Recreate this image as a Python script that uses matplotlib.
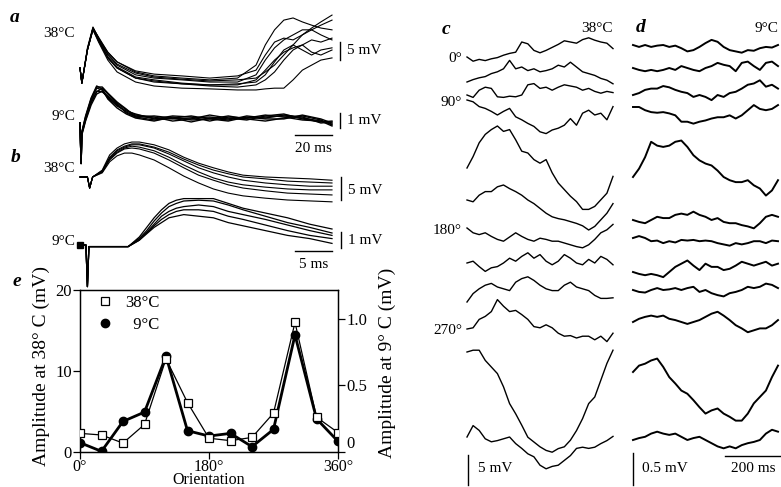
import numpy as np
import matplotlib
matplotlib.use("Agg")
from matplotlib import pyplot as plt
from matplotlib.lines import Line2D

plt.rcParams['font.family'] = ['Liberation Serif', 'DejaVu Serif']
plt.rcParams['font.size'] = 11

W, H = 781, 487

# ---------------- data ----------------
# panel e : orientation tuning
orientation = [0, 30, 60, 90, 120, 150, 180, 210, 240, 270, 300, 330, 360]
amp_38 = [2.3, 2.1, 1.1, 3.4, 11.5, 6.1, 1.7, 1.4, 1.8, 4.8, 16.0, 4.3, 2.4]        # mV, left axis
amp_9 = [0.07, 0.005, 0.23, 0.30, 0.72, 0.16, 0.12, 0.14, 0.04, 0.17, 0.88, 0.25, 0.08]  # mV, right axis

# panel a : responses to repeated stimuli (mV vs ms)
a_t38 = [0, 1, 4, 7, 10, 15, 20, 30, 40, 55, 70, 85, 95, 100, 105, 110, 115, 120, 125, 130, 136]
a_38 = [
    [0, -4.2, 5.0, 10.6, 7.2, 2.2, -1.1, -3.9, -5.0, -5.6, -5.8, -6.1, -6.1, -5.8, -5.6, -5.6, -3.3, -0.6, 0.8, 2.2, 2.8],
    [0, -4.2, 5.0, 11.1, 7.8, 2.8, 0, -2.8, -3.9, -4.4, -4.7, -4.7, -3.3, -0.6, 2.2, 4.4, 5.6, 6.4, 7.8, 7.2, 8.3],
    [0, -4.2, 5.6, 11.4, 8.3, 3.6, 0.8, -1.9, -2.8, -3.3, -3.9, -3.9, -1.9, 2.2, 5.6, 7.8, 9.2, 10.6, 10.6, 11.9, 13.3],
    [0, -4.2, 5.0, 11.1, 8.3, 4.4, 1.7, -1.1, -2.2, -2.8, -3.3, -2.8, 0.8, 6.4, 10.6, 13.3, 13.9, 12.8, 11.9, 11.1, 10.6],
    [0, -4.2, 5.0, 10.8, 7.8, 3.1, 0.3, -2.5, -3.3, -4.2, -4.7, -4.4, -3.9, -1.9, 1.7, 5.0, 6.4, 5.0, 3.6, 5.0, 5.6],
    [0, -4.2, 5.3, 11.1, 8.3, 3.9, 1.1, -1.4, -2.5, -3.1, -3.6, -3.3, -2.8, -1.1, 0.8, 3.6, 6.4, 9.2, 11.1, 12.8, 14.7],
    [0, -4.2, 5.0, 10.6, 7.5, 2.8, 0, -2.8, -3.6, -4.4, -5.0, -5.3, -4.7, -3.3, -1.1, 2.2, 5.0, 6.4, 4.4, 3.6, 5.0],
    [0, -4.2, 5.0, 11.1, 8.6, 4.4, 1.7, -0.8, -1.7, -2.2, -2.8, -2.2, -0.6, 3.6, 7.2, 8.3, 7.8, 9.2, 10.6, 9.2, 7.8],
]
a_t9 = [0, 0.6, 1, 3, 6, 9, 12, 15, 20, 25, 30, 40, 50, 60, 70, 80, 90, 100, 110, 120, 130, 136]
a_9 = [
    [0, -2.7, -0.67, 0.33, 1.53, 2.33, 2.2, 1.73, 1.2, 0.73, 0.47, 0.33, 0.27, 0.33, 0.4, 0.27, 0.33, 0.4, 0.47, 0.33, 0.13, -0.07],
    [0, -2.7, -0.73, 0.2, 1.33, 2.07, 2.33, 1.93, 1.33, 0.87, 0.53, 0.4, 0.13, 0.27, 0.53, 0.33, 0.2, 0.47, 0.6, 0.27, 0.07, 0.13],
    [0, -2.7, -0.6, 0.47, 1.67, 2.47, 2.27, 1.6, 1.0, 0.6, 0.33, 0.13, 0.4, 0.2, 0.27, 0.47, 0.27, 0.13, 0.33, 0.47, 0.2, -0.13],
    [0, -2.7, -0.67, 0.27, 1.4, 2.13, 2.07, 1.8, 1.27, 0.67, 0.4, 0.47, 0.33, 0.07, 0.33, 0.2, 0.47, 0.33, 0.53, 0.4, 0, 0.07],
    [0, -2.7, -0.8, 0.13, 1.2, 1.93, 2.13, 1.67, 1.13, 0.8, 0.6, 0.27, 0.47, 0.4, 0.13, 0.4, 0.33, 0.53, 0.4, 0.2, 0.13, -0.2],
    [0, -2.7, -0.6, 0.4, 1.6, 2.4, 2.4, 2.0, 1.4, 0.93, 0.4, 0.2, 0.33, 0.47, 0.27, 0.13, 0.4, 0.27, 0.27, 0.53, 0.27, 0],
]

# panel b : same cell, expanded time base
b_t38 = [0, 1.0, 1.3, 1.7, 3, 4, 5, 6, 7, 8, 10, 12, 14, 16, 18, 20, 22, 25, 28, 31, 34]
b_38 = [
    [0, 0, -2.4, 0, 1.5, 4.8, 6.3, 7.2, 7.6, 7.6, 7.0, 5.9, 4.3, 3.0, 2.0, 1.1, 0.4, 0, -0.2, -0.4, -0.7],
    [0, 0, -2.4, 0, 1.3, 4.3, 5.9, 6.7, 7.2, 7.2, 6.5, 5.4, 3.9, 2.6, 1.5, 0.7, 0, -0.4, -0.9, -1.1, -1.3],
    [0, 0, -2.4, 0, 1.3, 4.1, 5.7, 6.5, 7.0, 7.0, 6.3, 5.0, 3.5, 2.0, 0.9, 0, -0.7, -1.3, -1.7, -2.0, -2.0],
    [0, 0, -2.4, 0, 1.1, 3.9, 5.4, 6.3, 6.7, 6.5, 5.7, 4.3, 2.6, 1.1, -0.2, -1.1, -1.7, -2.2, -2.6, -2.8, -2.8],
    [0, 0, -2.4, 0, 1.1, 3.7, 5.2, 6.1, 6.3, 6.1, 5.2, 3.7, 2.0, 0.4, -0.7, -1.7, -2.4, -3.0, -3.5, -3.7, -3.9],
    [0, 0, -2.4, 0, 0.9, 3.3, 4.6, 5.2, 5.2, 4.8, 3.7, 2.0, 0.2, -1.3, -2.6, -3.5, -4.1, -4.6, -5.0, -5.2, -5.4],
]
b_t9 = [0, 0.8, 1.0, 1.2, 3, 5, 6.5, 8, 9, 10, 11, 12, 13, 14, 16, 18, 20, 22, 25, 28, 31, 34]
b_9 = [
    [0, 0, -2.6, -0.1, -0.1, -0.1, -0.1, 0.5, 1.1, 1.7, 2.2, 2.6, 2.8, 2.9, 2.9, 2.9, 2.6, 2.3, 2.0, 1.7, 1.3, 1.0],
    [0, 0, -2.6, -0.1, -0.1, -0.1, -0.1, 0.4, 0.9, 1.5, 2.0, 2.4, 2.6, 2.75, 2.8, 2.75, 2.5, 2.2, 1.8, 1.4, 1.1, 0.75],
    [0, 0, -2.6, -0.1, -0.1, -0.1, -0.1, 0.4, 0.8, 1.3, 1.8, 2.1, 2.3, 2.4, 2.5, 2.4, 2.1, 1.9, 1.6, 1.25, 0.9, 0.6],
    [0, 0, -2.6, -0.1, -0.1, -0.1, -0.1, 0.3, 0.75, 1.2, 1.6, 1.9, 2.1, 2.2, 2.2, 2.1, 1.8, 1.6, 1.25, 0.9, 0.6, 0.4],
    [0, 0, -2.6, -0.1, -0.1, -0.1, -0.1, 0.3, 0.7, 1.1, 1.4, 1.7, 1.8, 1.9, 1.8, 1.7, 1.4, 1.2, 0.9, 0.6, 0.4, 0.1],
]

# panels c, d : one trace per orientation (0..330 deg, 30 deg steps), 25 samples over ~520 ms
cd_t = np.linspace(0, 520, 25)
c_38 = [
    [0, -0.7, -0.4, -0.6, -0.3, -0.1, 0.3, 0.6, 0.8, 2.5, 2.2, 1.1, 0.7, 1.1, 1.6, 2.1, 2.7, 2.5, 2.3, 2.9, 3.2, 2.8, 2.5, 2.3, 1.4],
    [0, 0.4, 0.7, 0.9, 1.4, 1.7, 2.2, 3.6, 2.2, 2.5, 1.9, 2.2, 1.7, 1.9, 2.2, 2.8, 2.5, 3.3, 2.5, 1.7, 1.4, 1.1, 0.6, 0.3, -0.3],
    [0, -0.4, 0.8, 1.3, 1.1, -0.3, -0.4, -0.2, -0.3, 0, 1.7, 1.9, 1.1, 1.3, 0.8, 1.3, 1.7, 1.5, 1.3, 0.8, 1.1, 0.6, 0.3, 0.6, 0.4],
    [0, -0.3, -1.1, -1.4, -1.9, -2.5, -1.9, -1.4, -2.8, -3.3, -3.9, -4.4, -5.3, -5.6, -5.0, -4.7, -4.2, -3.1, -4.2, -2.2, -1.7, -2.5, -2.2, -3.3, -1.1],
    [0, 1.9, 4.2, 5.6, 6.4, 7.0, 6.1, 6.4, 4.7, 2.8, 2.5, 1.4, 0.8, 1.4, -0.8, -2.5, -3.6, -4.7, -5.6, -6.9, -6.9, -6.4, -5.3, -4.2, -1.4],
    [0, -0.3, 0.8, 1.4, 1.4, 2.2, 2.5, 1.9, 1.4, 0.8, 0, -0.6, -1.4, -2.2, -2.8, -3.1, -3.3, -3.6, -3.9, -4.3, -5.0, -4.4, -3.3, -2.2, -0.6],
    [0, -0.8, -1.1, -0.8, -1.4, -1.9, -2.2, -1.5, -0.8, -1.4, -1.9, -2.2, -1.7, -1.9, -2.2, -2.2, -2.5, -2.8, -3.1, -3.3, -2.8, -1.9, -0.8, -0.3, 0.6],
    [0, 0.3, -0.6, -1.4, -0.8, -0.6, 0, 0.8, 0.3, 1.1, 1.7, 0.8, 1.4, 0.3, -0.3, 0.3, 1.4, 0.8, 0, -0.3, 0.6, 0, 1.1, 0.6, -0.3],
    [0, 1.4, 2.2, 2.8, 3.1, 2.5, 2.2, 1.9, 3.3, 3.9, 4.2, 3.6, 2.8, 2.2, 1.9, 1.9, 2.8, 3.3, 2.5, 2.2, 1.9, 1.1, 0.6, 0.6, 0.7],
    [0, 0.2, 1.6, 2.1, 2.9, 4.9, 3.8, 2.9, 3.1, 2.4, 1.6, 0.4, 0.2, 0.7, 0.2, -0.7, -1.2, -1.1, -1.5, -1.2, -1.2, -1.8, -1.2, -2.1, -0.7],
    [0, 0.3, 0.3, -1.4, -2.5, -3.6, -5.8, -8.6, -10.3, -12.2, -14.2, -15.0, -15.8, -16.4, -16.7, -16.1, -15.8, -14.7, -13.1, -11.1, -8.6, -7.5, -4.7, -1.9, 0.3],
    [0, 1.9, 1.1, -0.3, -0.8, -0.6, -0.3, 0, -1.1, -1.9, -2.8, -3.3, -4.7, -5.3, -4.9, -4.7, -3.9, -3.1, -1.9, -1.7, -1.9, -1.7, -1.1, -0.6, 0.1],
]
d_9 = [
    [0, -0.03, 0, -0.03, -0.01, 0, -0.03, -0.01, -0.05, -0.10, -0.08, -0.03, 0.03, 0.08, 0.05, -0.03, -0.08, -0.10, -0.12, -0.08, -0.09, -0.05, -0.03, -0.04, 0],
    [0, -0.03, -0.05, -0.03, -0.05, -0.03, 0, -0.03, 0.03, 0, -0.03, -0.05, 0, 0.03, 0.08, 0.05, 0.03, -0.05, 0.08, 0.10, 0.03, -0.03, 0.08, 0.10, 0.03],
    [0, 0.03, 0.08, 0.10, 0.10, 0.14, 0.12, 0.08, 0.05, 0.03, -0.03, 0, -0.03, -0.08, 0, -0.03, 0.03, 0.05, 0.10, 0.16, 0.18, 0.23, 0.13, 0.16, 0.10],
    [0, 0, -0.05, -0.08, -0.09, -0.08, -0.10, -0.13, -0.23, -0.23, -0.26, -0.23, -0.21, -0.18, -0.16, -0.16, -0.13, -0.18, -0.13, -0.05, 0.03, -0.03, -0.05, -0.03, 0.03],
    [0, 0.13, 0.31, 0.55, 0.49, 0.47, 0.49, 0.55, 0.57, 0.47, 0.34, 0.26, 0.21, 0.18, 0.10, 0, -0.05, -0.08, -0.08, -0.05, -0.13, -0.18, -0.29, -0.21, -0.05],
    [0, -0.03, -0.05, 0, 0.05, 0.03, 0.03, 0.08, 0.10, 0.08, 0.13, 0.08, 0.05, 0, 0.03, -0.03, -0.05, -0.05, -0.08, -0.10, -0.13, -0.05, 0.05, 0.08, 0.05],
    [0, 0.03, 0, -0.05, -0.04, -0.08, -0.05, -0.07, -0.03, -0.04, -0.03, -0.05, -0.04, -0.05, -0.08, -0.10, -0.12, -0.08, -0.10, -0.08, -0.05, -0.05, -0.08, -0.04, -0.05],
    [0, -0.03, -0.05, -0.03, -0.05, -0.08, 0, 0.08, 0.13, 0.18, 0.10, 0.03, 0.13, 0.08, 0.08, 0.03, 0.05, 0.10, 0.16, 0.13, 0.10, 0.13, 0.16, 0.10, 0.13],
    [0, -0.03, -0.04, 0, 0.03, 0, 0.01, 0.03, 0, 0.03, 0.05, -0.03, 0, -0.05, -0.08, -0.10, -0.05, -0.03, 0, 0.05, 0.03, 0.05, 0.10, 0.08, 0.03],
    [0, 0.05, 0.08, 0.10, 0.08, 0.10, 0.05, 0.03, 0, -0.03, 0, 0.03, 0.08, 0.13, 0.16, 0.10, 0.03, -0.05, -0.10, -0.16, -0.13, -0.10, -0.10, -0.05, 0.03],
    [0, 0.10, 0.13, 0.18, 0.21, 0.08, -0.08, -0.18, -0.29, -0.34, -0.44, -0.55, -0.65, -0.60, -0.57, -0.65, -0.70, -0.76, -0.76, -0.65, -0.49, -0.39, -0.29, -0.08, 0.10],
    [0, 0.03, 0.05, 0.10, 0.13, 0.10, 0.08, 0.10, 0.05, 0, 0.03, 0.05, 0, -0.05, -0.10, -0.13, -0.10, -0.13, -0.08, -0.05, -0.03, 0, 0.10, 0.16, 0.13],
]

# vertical placement of the stacked traces (pixel rows of each trace start)
c_rows = [57, 82, 95, 100, 168, 200, 228, 263, 302, 329, 352, 437]
d_rows = [45, 68, 95, 107, 177, 220, 238, 272, 290, 322, 372, 440]


# ---------------- layout helpers ----------------
def px_rect(x0, y0, x1, y1):
    return [x0 / W, 1 - y1 / H, (x1 - x0) / W, (y1 - y0) / H]


def trace_axes(x0, x1, y0, y1, tmax, base_px, ppu):
    ax = fig.add_axes(px_rect(x0, y0, x1, y1))
    ax.set_xlim(0, tmax)
    ax.set_ylim((base_px - y1) / ppu, (base_px - y0) / ppu)
    ax.axis('off')
    ax.patch.set_alpha(0)
    return ax


def px_line(xs, ys, lw=1.0):
    fig.add_artist(Line2D([x / W for x in xs], [1 - y / H for y in ys], color='black', lw=lw))


def px_text(x, y, s, **kw):
    fig.text(x / W, 1 - y / H, s, **kw)


fig = plt.figure(figsize=(W / 100, H / 100), dpi=100)

# ---------------- panel a ----------------
ax = trace_axes(80, 332, 0, 100, 136, 68, 3.6)
for tr in a_38:
    ax.plot(a_t38, tr, color='black', lw=0.8, clip_on=False)
ax = trace_axes(80, 332, 90, 145, 136, 123, 15)
for tr in a_9:
    ax.plot(a_t9, tr, color='black', lw=1.0, clip_on=False)

px_text(15, 17, 'a', fontsize=14, fontweight='bold', style='italic', ha='center', va='center')
px_text(75, 33, '38°C', ha='right', va='center')
px_text(75, 117, '9°C', ha='right', va='center')
px_line([340, 340], [42, 60])
px_text(347, 51, '5 mV', ha='left', va='center')
px_line([340, 340], [113, 128])
px_text(347, 120, '1 mV', ha='left', va='center')
px_line([295, 332], [135, 135])
px_text(313, 148, '20 ms', ha='center', va='center')

# ---------------- panel b ----------------
ax = trace_axes(80, 332, 130, 215, 34, 177, 4.6)
for tr in b_38:
    ax.plot(b_t38, tr, color='black', lw=0.8, clip_on=False)
ax = trace_axes(80, 332, 190, 290, 34, 245, 16)
for tr in b_9:
    ax.plot(b_t9, tr, color='black', lw=0.9, clip_on=False)
ax.plot(b_t9[:1], b_9[0][:1], 's', color='black', ms=4, clip_on=False)

px_text(16, 157, 'b', fontsize=14, fontweight='bold', style='italic', ha='center', va='center')
px_text(75, 169, '38°C', ha='right', va='center')
px_text(75, 242, '9°C', ha='right', va='center')
px_line([341, 341], [177, 200])
px_text(348, 190, '5 mV', ha='left', va='center')
px_line([341, 341], [232, 248])
px_text(348, 240, '1 mV', ha='left', va='center')
px_line([295, 332], [251, 251])
px_text(314, 264, '5 ms', ha='center', va='center')

# ---------------- panel c ----------------
ax = trace_axes(467, 613, 0, 487, 520, 0, 6)
for tr, row in zip(c_38, c_rows):
    ax.plot(cd_t, np.array(tr) - row / 6, color='black', lw=1.0, clip_on=False)
px_text(446, 30, 'c', fontsize=14, fontweight='bold', style='italic', ha='center', va='center')
px_text(613, 29, '38°C', ha='right', va='center')
for lab, i in zip(['0°', '90°', '180°', '270°'], [0, 3, 6, 9]):
    px_text(462, c_rows[i] + 2, lab, ha='right', va='center')
px_line([468, 468], [455, 485])
px_text(478, 469, '5 mV', ha='left', va='center')

# ---------------- panel d ----------------
ax = trace_axes(633, 778, 0, 487, 520, 0, 64)
for tr, row in zip(d_9, d_rows):
    ax.plot(cd_t, np.array(tr) - row / 64, color='black', lw=1.4, clip_on=False)
px_text(641, 28, 'd', fontsize=14, fontweight='bold', style='italic', ha='center', va='center')
px_text(778, 28, '9°C', ha='right', va='center')
px_line([633, 633], [453, 485])
px_text(642, 468, '0.5 mV', ha='left', va='center')
px_line([725, 781], [456, 456])
px_text(753, 469, '200 ms', ha='center', va='center')

# ---------------- panel e ----------------
ax = fig.add_axes(px_rect(80, 290, 338, 452))
ax2 = ax.twinx()
ax.plot(orientation, amp_38, color='black', lw=0.9, marker='s', ms=6,
        mfc='white', mec='black', mew=0.9, label='38°C', zorder=3)
ax2.plot(orientation, amp_9, color='black', lw=2.0, marker='o', ms=6,
         mfc='black', mec='black', label='  9°C')
ax.set_zorder(ax2.get_zorder() + 1)
ax.patch.set_visible(False)
ax.set_xlim(0, 360)
ax.set_ylim(0, 20)
ax2.set_ylim(0, 20 * 0.0609)
ax.set_xticks([0, 180, 360], ['0°', '180°', '360°'])
ax.set_yticks([0, 10, 20])
ax2.set_yticks([0, 0.5, 1.0], ['0', '0.5', '1.0'])
for a_ in (ax, ax2):
    a_.tick_params(direction='out', length=5, width=0.9, labelsize=12, pad=1)
    for sp in a_.spines.values():
        sp.set_linewidth(0.9)
ax.tick_params(axis='x', pad=0, labelsize=11.5)
ax2.get_yticklabels()[0].set_verticalalignment('bottom')
ax.set_xlabel('Orientation', fontsize=11.5, va='center')
ax.xaxis.set_label_coords(0.5, -(480 - 452) / 162)
ax.set_ylabel('Amplitude at 38° C (mV)', fontsize=14, va='center', rotation_mode='default')
ax.yaxis.set_label_coords(-0.151, 0.53)
ax2.set_ylabel('Amplitude at 9° C (mV)', fontsize=14, rotation=90, va='center', rotation_mode='default')
ax2.yaxis.set_label_coords(1.19, 0.55)

h1, l1 = ax.get_legend_handles_labels()
h2, l2 = ax2.get_legend_handles_labels()
leg = ax.legend(h1 + h2, l1 + l2, loc='upper left', bbox_to_anchor=(0.04, 1.06), frameon=False,
                handlelength=0, handletextpad=1.2, fontsize=12, labelspacing=0.35)
px_text(17, 282, 'e', fontsize=14, fontweight='bold', style='italic', ha='center', va='center')

fig.savefig('out.png', dpi=100)
